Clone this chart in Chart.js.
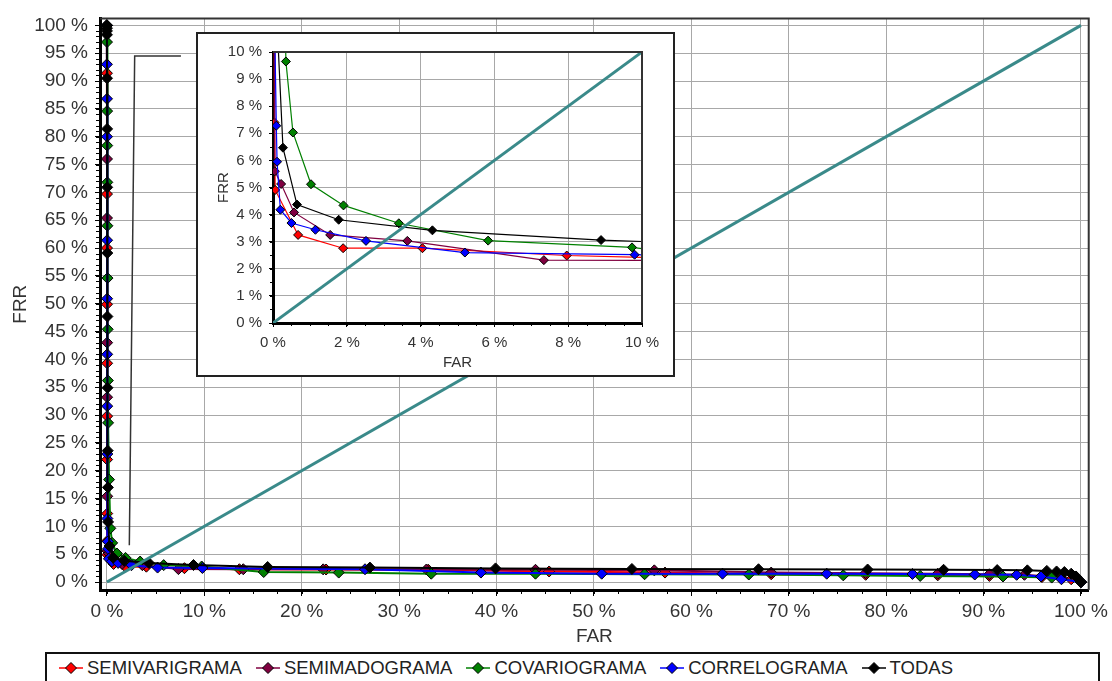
<!DOCTYPE html>
<html lang="es">
<head>
<meta charset="UTF-8">
<title>FAR / FRR</title>
<style>
  body { margin: 0; background: #fff; font-family: 'Liberation Sans', Arial, sans-serif; }
  #wrap { position: relative; width: 1112px; height: 681px; overflow: hidden; background: #fff; }
  #mainChart { position: absolute; left: 0; top: 0; }
  #insetBox {
    position: absolute; left: 196px; top: 32px; width: 475px; height: 341px;
    border: 2px solid #222; background: #fff;
  }
  #insetChart { position: absolute; left: 0; top: 0; }
  #legend {
    position: absolute; left: 45px; top: 652px; width: 1055px; height: 44px;
    border: 2px solid #111; box-sizing: border-box;
    display: flex; align-items: center; padding: 0 0 12px 12px;
    font-size: 18.5px; color: #222;
  }
  .item { display: flex; align-items: center; margin-right: 14px; }
  .item svg { margin-right: 4px; }
</style>
<script src="https://cdn.jsdelivr.net/npm/chart.js"></script>
</head>
<body>
<div id="wrap">
  <canvas id="mainChart" width="1112" height="652"></canvas>
  <div id="insetBox"><canvas id="insetChart" width="475" height="341"></canvas></div>
  <div id="legend"></div>
</div>

<script>
// ---- data (FAR %, FRR %) ----
const seriesNames = ['SEMIVARIGRAMA', 'SEMIMADOGRAMA', 'COVARIOGRAMA', 'CORRELOGRAMA', 'TODAS'];
const seriesColors = ['#ff0000', '#800040', '#008000', '#0000ff', '#000000'];

const semivariFar = [0, 0, 0.01, 0.01, 0.01, 0.02, 0.02, 0.02, 0.03, 0.04, 0.06, 0.68, 1.9, 4.05, 7.96, 13.6, 22.5, 33.0, 45.4, 57.3, 68.2, 77.9, 85.3, 90.6, 96.0, 99.0, 100];
const semivariFrr = [100, 91.4, 69.7, 60.0, 49.9, 39.3, 29.8, 22.0, 12.3, 7.4, 4.91, 3.25, 2.76, 2.76, 2.49, 2.3, 2.25, 2.2, 1.9, 1.7, 1.4, 1.3, 1.2, 1.1, 0.9, 0.5, 0];

const semimadoFar = [0, 0.01, 0.01, 0.02, 0.02, 0.03, 0.05, 0.22, 0.57, 1.55, 3.64, 7.34, 14.0, 22.2, 32.8, 44.0, 56.2, 68.2, 77.9, 85.3, 90.6, 94.2, 98.0, 100];
const semimadoFrr = [100, 76.0, 65.4, 43.0, 33.2, 15.4, 5.6, 5.13, 4.08, 3.25, 3.03, 2.32, 2.3, 2.28, 2.25, 2.2, 2.1, 1.7, 1.6, 1.5, 1.4, 1.3, 0.8, 0];

const covarioFar = [0, 0.01, 0.02, 0.03, 0.04, 0.05, 0.06, 0.08, 0.1, 0.12, 0.22, 0.35, 0.54, 1.03, 1.91, 3.41, 5.83, 9.73, 16.1, 23.8, 33.3, 44.0, 55.2, 65.9, 75.6, 83.5, 92.0, 97.0, 100];
const covarioFrr = [100, 97.0, 84.6, 78.4, 71.8, 64.0, 54.6, 45.4, 36.2, 28.6, 18.4, 9.65, 7.03, 5.12, 4.34, 3.68, 3.04, 2.79, 1.8, 1.7, 1.5, 1.5, 1.4, 1.35, 1.2, 1.1, 1.0, 0.8, 0];

const correloFar = [0, 0, 0.01, 0.01, 0.02, 0.02, 0.03, 0.03, 0.04, 0.05, 0.09, 0.11, 0.2, 0.5, 1.15, 2.52, 5.2, 9.8, 26.5, 38.4, 50.8, 63.2, 73.9, 82.7, 89.1, 93.4, 95.9, 98.0, 100];
const correloFrr = [100, 93.0, 86.8, 80.0, 61.4, 50.9, 40.9, 31.6, 23.0, 11.4, 7.28, 5.95, 4.18, 3.69, 3.44, 3.03, 2.6, 2.52, 2.3, 1.7, 1.5, 1.5, 1.5, 1.45, 1.35, 1.3, 1.0, 0.5, 0];

const todasFar = [0, 0, 0, 0, 0.01, 0.02, 0.03, 0.04, 0.05, 0.06, 0.08, 0.1, 0.12, 0.27, 0.65, 1.78, 4.32, 8.89, 16.5, 27.0, 39.9, 53.9, 66.9, 78.1, 85.9, 91.4, 94.5, 96.5, 97.5, 98.3, 99.0, 99.5, 100];
const todasFrr = [100, 99.5, 99.0, 98.3, 90.5, 81.4, 70.9, 59.1, 47.7, 34.9, 23.6, 17.0, 10.8, 6.47, 4.37, 3.81, 3.42, 3.06, 2.7, 2.6, 2.45, 2.35, 2.3, 2.25, 2.2, 2.15, 2.1, 2.0, 1.9, 1.8, 1.5, 1.0, 0];

// FAR = FRR line, and the zoom pointer drawn on the main chart
const diagX = [0, 100];
const diagY = [0, 100];
const pointerX = [2.3, 2.85, 7.6];
const pointerY = [6.6, 94.5, 94.5];

const mainXTicks = [0, 10, 20, 30, 40, 50, 60, 70, 80, 90, 100];
const mainYTicks = [0, 5, 10, 15, 20, 25, 30, 35, 40, 45, 50, 55, 60, 65, 70, 75, 80, 85, 90, 95, 100];
const insetXTicks = [0, 2, 4, 6, 8, 10];
const insetYTicks = [0, 1, 2, 3, 4, 5, 6, 7, 8, 9, 10];

const seriesFar = [semivariFar, semimadoFar, covarioFar, correloFar, todasFar];
const seriesFrr = [semivariFrr, semimadoFrr, covarioFrr, correloFrr, todasFrr];

const FONT = "'Liberation Sans', Arial, sans-serif";
const TEAL = '#3a8a8a';

function toPoints(xs, ys) {
  return xs.map((x, i) => ({ x: x, y: ys[i] }));
}

function buildDatasets(radius, width, withPointer) {
  const sets = [{
    label: 'FAR = FRR',
    data: toPoints(diagX, diagY),
    showLine: true, borderColor: TEAL, borderWidth: 3, pointRadius: 0, order: 0
  }];
  seriesNames.forEach((name, i) => {
    sets.push({
      label: name,
      data: toPoints(seriesFar[i], seriesFrr[i]),
      showLine: true,
      borderColor: seriesColors[i],
      borderWidth: width,
      backgroundColor: seriesColors[i],
      pointStyle: 'rectRot',
      pointRadius: radius,
      pointBorderColor: '#000',
      pointBorderWidth: 1,
      order: 5 - i
    });
  });
  if (withPointer) {
    sets.push({
      label: 'zoom',
      data: toPoints(pointerX, pointerY),
      showLine: true, borderColor: '#333', borderWidth: 1.5, pointRadius: 0, order: 6
    });
  }
  return sets;
}

// top/right frame plus small minor ticks on the axes
const framePlugin = {
  id: 'frame',
  afterDraw(chart, args, opts) {
    const { ctx, chartArea: a, scales } = chart;
    ctx.save();
    ctx.strokeStyle = '#333';
    ctx.lineWidth = 2;
    ctx.beginPath();
    ctx.moveTo(a.left, a.top); ctx.lineTo(a.right, a.top); ctx.lineTo(a.right, a.bottom);
    ctx.stroke();
    ctx.strokeStyle = '#000';
    ctx.lineWidth = 1;
    ctx.beginPath();
    for (let v = opts.xMin; v <= opts.xMax + 1e-9; v += opts.xStep) {
      const px = Math.round(scales.x.getPixelForValue(v)) + 0.5;
      ctx.moveTo(px, a.bottom); ctx.lineTo(px, a.bottom + opts.len);
    }
    for (let v = opts.yMin; v <= opts.yMax + 1e-9; v += opts.yStep) {
      const py = Math.round(scales.y.getPixelForValue(v)) + 0.5;
      ctx.moveTo(a.left, py); ctx.lineTo(a.left - opts.len, py);
    }
    ctx.stroke();
    ctx.restore();
  }
};

function pct(v) { return v + ' %'; }

function axis(opts) {
  return {
    type: 'linear',
    min: opts.min, max: opts.max,
    afterBuildTicks: s => { s.ticks = opts.ticks.map(v => ({ value: v })); },
    afterFit: s => { if (opts.w) s.width = opts.w; if (opts.h) s.height = opts.h; },
    grid: {
      color: '#a8a8a8', lineWidth: 1, borderDash: [5, 4],
      drawTicks: true, tickLength: opts.tick, tickColor: '#000', tickBorderDash: [], tickWidth: 1
    },
    border: { display: true, color: '#000', width: 3 },
    ticks: {
      padding: opts.pad, color: '#333', maxRotation: 0, autoSkip: false,
      font: { family: FONT, size: opts.fs },
      callback: pct
    },
    title: {
      display: true, text: opts.title, color: '#333',
      font: { family: FONT, size: opts.fs },
      padding: opts.titlePad
    }
  };
}

new Chart(document.getElementById('mainChart'), {
  type: 'scatter',
  data: { datasets: buildDatasets(5.5, 2, true) },
  options: {
    responsive: false, animation: false,
    layout: { padding: { left: 0, top: 15, right: 17, bottom: 0 } },
    plugins: {
      legend: { display: false }, tooltip: { enabled: false },
      frame: { xMin: 0, xMax: 100, xStep: 2.5, yMin: 0, yMax: 100, yStep: 1, len: 4 }
    },
    scales: {
      x: axis({ min: -0.71, max: 100.8, ticks: mainXTicks, h: 62, tick: 6, pad: 4, fs: 19, title: 'FAR', titlePad: { top: 0, bottom: 4 } }),
      y: axis({ min: -1.43, max: 101.25, ticks: mainYTicks, w: 100, tick: 5, pad: 7, fs: 19, title: 'FRR', titlePad: { top: 9, bottom: 0 } })
    }
  },
  plugins: [framePlugin]
});

new Chart(document.getElementById('insetChart'), {
  type: 'scatter',
  data: { datasets: buildDatasets(4.5, 1.2, false) },
  options: {
    responsive: false, animation: false,
    layout: { padding: { left: 0, top: 18, right: 31, bottom: 0 } },
    plugins: {
      legend: { display: false }, tooltip: { enabled: false },
      frame: { xMin: 0, xMax: 10, xStep: 0.5, yMin: 0, yMax: 10, yStep: 0.5, len: 3 }
    },
    scales: {
      x: axis({ min: 0, max: 10, ticks: insetXTicks, h: 52, tick: 4, pad: 7, fs: 15, title: 'FAR', titlePad: { top: 0, bottom: 3 } }),
      y: axis({ min: 0, max: 10, ticks: insetYTicks, w: 75, tick: 4, pad: 7, fs: 15, title: 'FRR', titlePad: { top: 17, bottom: 0 } })
    }
  },
  plugins: [framePlugin]
});

// legend below the chart
const legend = document.getElementById('legend');
seriesNames.forEach((name, i) => {
  const item = document.createElement('div');
  item.className = 'item';
  item.innerHTML =
    '<svg width="24" height="14"><line x1="0" y1="7" x2="24" y2="7" stroke="' + seriesColors[i] + '" stroke-width="1.5"/>' +
    '<polygon points="12,1.5 17.5,7 12,12.5 6.5,7" fill="' + seriesColors[i] + '" stroke="#000" stroke-width="1"/></svg>' +
    '<span>' + name + '</span>';
  legend.appendChild(item);
});
</script>
</body>
</html>
